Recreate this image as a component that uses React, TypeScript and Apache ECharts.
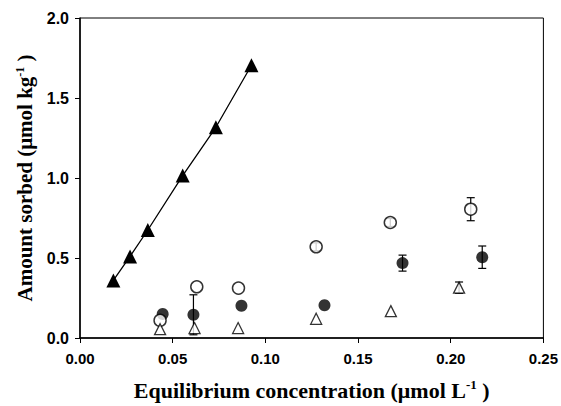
import React, { useEffect, useRef } from "react";
import * as echarts from "echarts";

// Filled triangles (with line)
const triX = [0.018, 0.027, 0.0366, 0.0554, 0.0733, 0.0925];
const triY = [0.36, 0.51, 0.675, 1.015, 1.317, 1.705];

// Open circles
const ocX = [0.0432, 0.063, 0.0855, 0.1274, 0.1674, 0.2108];
const ocY = [0.11, 0.32, 0.312, 0.57, 0.722, 0.805];
const ocErr = [0, 0, 0, 0.025, 0.025, 0.072];

// Filled circles
const fcX = [0.0446, 0.0612, 0.0871, 0.1319, 0.174, 0.217];
const fcY = [0.15, 0.145, 0.202, 0.205, 0.468, 0.505];
const fcErr = [0, 0.125, 0, 0, 0.05, 0.07];

// Open triangles
const otX = [0.0432, 0.0618, 0.0853, 0.1274, 0.1677, 0.2045];
const otY = [0.055, 0.062, 0.062, 0.12, 0.168, 0.315];
const otErr = [0, 0, 0, 0, 0, 0.035];

const xTicks = [0, 0.05, 0.1, 0.15, 0.2, 0.25];
const yTicks = [0, 0.5, 1.0, 1.5, 2.0];

const pairs = (xs: number[], ys: number[]) => xs.map((x, i) => [x, ys[i]]);
const errData = (xs: number[], ys: number[], es: number[]) =>
  xs.map((x, i) => [x, ys[i], es[i]]).filter((d) => d[2] > 0);

function errSeries(data: number[][], z: number) {
  return {
    type: "custom",
    z,
    data,
    renderItem: (params: any, api: any) => {
      const x = api.value(0);
      const y = api.value(1);
      const e = api.value(2);
      const top = api.coord([x, y + e]);
      const bot = api.coord([x, y - e]);
      const w = 4;
      const style = { stroke: "#000", lineWidth: 1.2 };
      return {
        type: "group",
        children: [
          { type: "line", shape: { x1: top[0], y1: top[1], x2: bot[0], y2: bot[1] }, style },
          { type: "line", shape: { x1: top[0] - w, y1: top[1], x2: top[0] + w, y2: top[1] }, style },
          { type: "line", shape: { x1: bot[0] - w, y1: bot[1], x2: bot[0] + w, y2: bot[1] }, style },
        ],
      };
    },
  };
}

export default function App() {
  const ref = useRef<HTMLDivElement>(null);
  useEffect(() => {
    document.body.style.margin = "0";
    document.body.style.overflow = "hidden";
    if (!ref.current) return;
    const chart = echarts.init(ref.current, null, { renderer: "svg" });
    const serif = "Liberation Serif";
    const sans = "Liberation Sans";
    chart.setOption({
      animation: false,
      backgroundColor: "#fff",
      grid: {
        left: 80,
        right: 16,
        top: 18,
        bottom: 66,
        show: true,
        borderColor: "#000",
        borderWidth: 1,
      },
      xAxis: {
        type: "value",
        min: xTicks[0],
        max: xTicks[xTicks.length - 1],
        interval: 0.05,
        splitLine: { show: false },
        axisLine: { show: true, lineStyle: { color: "#000", width: 1.5 } },
        axisTick: { show: true, length: 5, lineStyle: { color: "#000", width: 1 } },
        axisLabel: {
          margin: 13,
          color: "#000",
          fontFamily: sans,
          fontWeight: "bold",
          fontSize: 15,
          formatter: (v: number) => v.toFixed(2),
        },
        name: "{a|Equilibrium concentration (μmol L}{s|-1}{a| )}",
        nameLocation: "middle",
        nameGap: 40,
        nameTextStyle: {
          rich: {
            a: { fontFamily: serif, fontWeight: "bold", fontSize: 22, color: "#000" },
            s: {
              fontFamily: serif,
              fontWeight: "bold",
              fontSize: 13,
              color: "#000",
              verticalAlign: "bottom",
              padding: [0, 0, 11, 0],
            },
          },
        },
      },
      yAxis: {
        type: "value",
        min: yTicks[0],
        max: yTicks[yTicks.length - 1],
        interval: 0.5,
        splitLine: { show: false },
        axisLine: { show: true, lineStyle: { color: "#000", width: 1.5 } },
        axisTick: { show: true, length: 5, lineStyle: { color: "#000", width: 1 } },
        axisLabel: {
          margin: 11,
          color: "#000",
          fontFamily: sans,
          fontWeight: "bold",
          fontSize: 16,
          formatter: (v: number) => v.toFixed(1),
        },
        name: "{a|Amount sorbed (μmol kg}{s|-1}{a| )}",
        nameLocation: "middle",
        nameGap: 43,
        nameTextStyle: {
          rich: {
            a: { fontFamily: serif, fontWeight: "bold", fontSize: 21, color: "#000" },
            s: {
              fontFamily: serif,
              fontWeight: "bold",
              fontSize: 12,
              color: "#000",
              verticalAlign: "bottom",
              padding: [0, 0, 10, 0],
            },
          },
        },
      },
      series: [
        {
          type: "line",
          data: pairs(triX, triY),
          symbol: "triangle",
          symbolSize: 14,
          lineStyle: { color: "#000", width: 1.3 },
          itemStyle: { color: "#000" },
          z: 2,
        },
        errSeries(errData(fcX, fcY, fcErr), 3),
        {
          type: "scatter",
          data: pairs(fcX, fcY),
          symbol: "circle",
          symbolSize: 12,
          itemStyle: { color: "#000" },
          z: 4,
        },
        errSeries(errData(ocX, ocY, ocErr), 5),
        {
          type: "scatter",
          data: pairs(ocX, ocY),
          symbol: "circle",
          symbolSize: 12,
          itemStyle: { color: "#fff", borderColor: "#000", borderWidth: 1.5 },
          z: 6,
        },
        errSeries(errData(otX, otY, otErr), 7),
        {
          type: "scatter",
          data: pairs(otX, otY),
          symbol: "triangle",
          symbolSize: 11,
          itemStyle: { color: "#fff", borderColor: "#000", borderWidth: 1.3 },
          z: 8,
        },
      ],
    });
    return () => chart.dispose();
  }, []);
  return <div ref={ref} style={{ width: 561, height: 406, overflow: "hidden" }} />;
}
